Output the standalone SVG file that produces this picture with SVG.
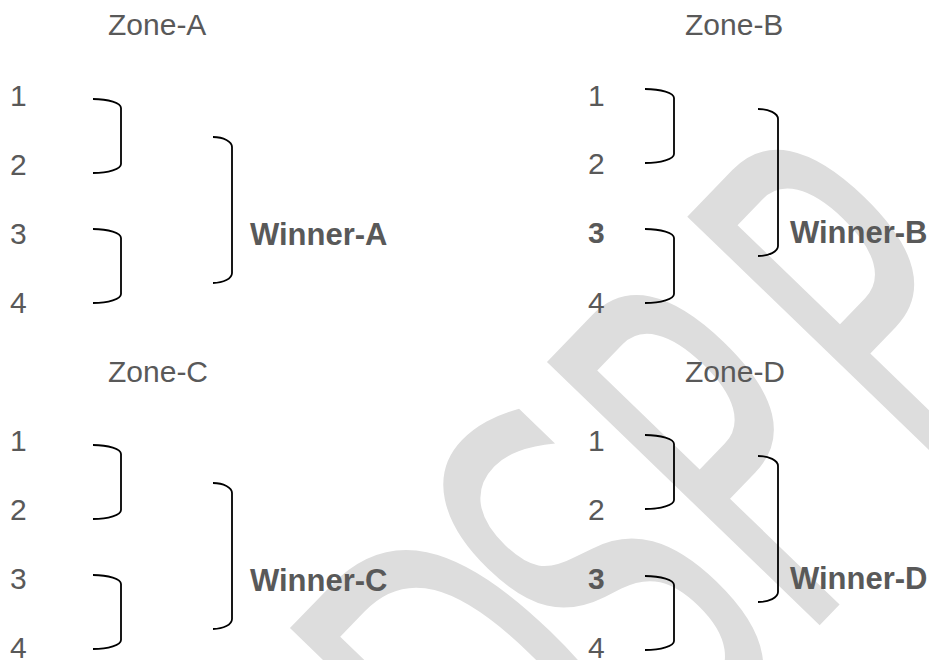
<svg xmlns="http://www.w3.org/2000/svg" width="929" height="660" viewBox="0 0 929 660">
<style>
.t{font-family:"Liberation Sans",Arial,sans-serif;font-size:30px;fill:#595959}
.b{font-weight:bold}
.w{font-family:"Liberation Sans",Arial,sans-serif;font-size:31px;font-weight:bold;fill:#595959}
.br{fill:none;stroke:#000;stroke-width:1.8}
.wm{font-family:"DejaVu Sans",sans-serif;font-size:520px;fill:#dddddd}
</style>
<rect width="929" height="660" fill="#fff"/>
<g id="watermark" transform="translate(547,362) rotate(-46) scale(0.56,1)">
<text class="wm" x="-711.7" y="379">D</text>
<text class="wm" x="-373" y="379">S</text>
<text class="wm" x="-51" y="379">P</text>
<text class="wm" x="309.7" y="379">P</text>
</g>
<g id="connectors">
<path class="br" d="M93,99 A28,9 0 0 1 121,108 V164 A28,9 0 0 1 93,173"/>
<path class="br" d="M93,229 A28,9 0 0 1 121,238 V294 A28,9 0 0 1 93,303"/>
<path class="br" d="M213,137 A19,10 0 0 1 232,147 V273 A19,10 0 0 1 213,283"/>
<path class="br" d="M93,445 A28,9 0 0 1 121,454 V510 A28,9 0 0 1 93,519"/>
<path class="br" d="M93,575 A28,9 0 0 1 121,584 V640 A28,9 0 0 1 93,649"/>
<path class="br" d="M213,483 A19,10 0 0 1 232,493 V619 A19,10 0 0 1 213,629"/>
<path class="br" d="M645,89 A29,9 0 0 1 674,98 V154 A29,9 0 0 1 645,163"/>
<path class="br" d="M645,229 A29,9 0 0 1 674,238 V294 A29,9 0 0 1 645,303"/>
<path class="br" d="M758,109 A20,10 0 0 1 778,119 V246 A20,10 0 0 1 758,256"/>
<path class="br" d="M645,435 A29,9 0 0 1 674,444 V500 A29,9 0 0 1 645,509"/>
<path class="br" d="M645,576 A29,9 0 0 1 674,585 V641 A29,9 0 0 1 645,650"/>
<path class="br" d="M758,456 A20,10 0 0 1 778,466 V592 A20,10 0 0 1 758,602"/>
</g>
<g id="zone-a">
<text class="t" x="108" y="35">Zone-A</text>
<text class="t" x="10" y="106">1</text>
<text class="t" x="10" y="175">2</text>
<text class="t" x="10" y="244">3</text>
<text class="t" x="10" y="313">4</text>
<text class="w" x="250" y="245">Winner-A</text>
</g>
<g id="zone-b">
<text class="t" x="685" y="35">Zone-B</text>
<text class="t" x="588" y="106">1</text>
<text class="t" x="588" y="174">2</text>
<text class="t b" x="588" y="243">3</text>
<text class="t" x="588" y="313">4</text>
<text class="w" x="790" y="243">Winner-B</text>
</g>
<g id="zone-c">
<text class="t" x="108" y="382">Zone-C</text>
<text class="t" x="10" y="451">1</text>
<text class="t" x="10" y="520">2</text>
<text class="t" x="10" y="589">3</text>
<text class="t" x="10" y="658">4</text>
<text class="w" x="250" y="591">Winner-C</text>
</g>
<g id="zone-d">
<text class="t" x="685" y="382">Zone-D</text>
<text class="t" x="588" y="451">1</text>
<text class="t" x="588" y="520">2</text>
<text class="t b" x="588" y="589">3</text>
<text class="t" x="588" y="658">4</text>
<text class="w" x="790" y="589">Winner-D</text>
</g>
</svg>
